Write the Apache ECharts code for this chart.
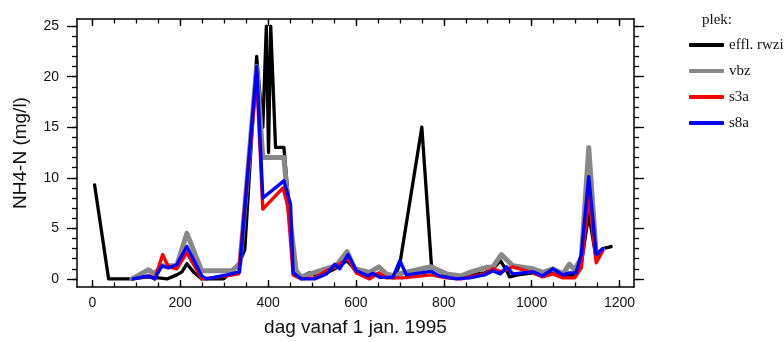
<!DOCTYPE html>
<html>
<head>
<meta charset="utf-8">
<script src="https://cdn.jsdelivr.net/npm/echarts@6/dist/echarts.min.js"></script>
<style>
  html, body { margin: 0; padding: 0; background: #fff; }
</style>
</head>
<body>
<div id="my-chart" style="width: 784px; height: 342px;"></div>
<script>
// effl. rwzi
const blackDays = [5, 37, 85, 130, 170, 192, 204, 215, 232, 249, 299, 321, 335, 347, 374, 388, 396, 401, 406, 417, 436, 461, 476, 493, 506, 529, 552, 580, 600, 631, 652, 669, 688, 700, 750, 772, 806, 840, 859, 893, 912, 929, 943, 950, 968, 1003, 1025, 1048, 1071, 1098, 1113, 1130, 1147, 1162, 1181];
const blackVals = [9.3, 0, 0, 0.2, 0, 0.4, 0.7, 1.5, 0.6, 0, 0, 0.9, 1.6, 2.9, 22, 15, 25, 12.5, 25, 13, 13, 0.5, 0.2, 0.6, 0.4, 0.5, 1.0, 1.8, 0.8, 0.4, 0.5, 0.2, 0.1, 1.5, 15, 1.3, 0.3, 0.2, 0.4, 0.6, 1.0, 1.8, 0.8, 0.2, 0.4, 0.6, 0.3, 0.6, 0.3, 0.4, 1.5, 6.4, 2.0, 3.0, 3.2];
// vbz
const grayDays = [90, 128, 142, 158, 192, 215, 249, 317, 336, 374, 388, 436, 445, 464, 476, 524, 555, 580, 597, 631, 652, 669, 688, 707, 771, 806, 840, 859, 893, 912, 931, 957, 1003, 1025, 1048, 1071, 1086, 1098, 1113, 1130, 1147, 1162];
const grayVals = [0, 0.9, 0.5, 1.3, 1.3, 4.5, 0.8, 0.8, 1.5, 21, 12, 12, 7.6, 0.8, 0.2, 0.9, 1.3, 2.7, 1.0, 0.65, 1.2, 0.5, 0.3, 0.6, 1.2, 0.5, 0.3, 0.65, 1.1, 1.2, 2.4, 1.3, 1.0, 0.65, 1.0, 0.5, 1.45, 0.9, 2.1, 13, 2.4, 2.9];
// s3a
const redDays = [93, 131, 142, 160, 173, 192, 215, 249, 306, 333, 374, 388, 434, 445, 457, 476, 506, 533, 552, 582, 601, 631, 652, 669, 700, 707, 771, 806, 840, 859, 893, 912, 931, 957, 1003, 1025, 1048, 1071, 1098, 1113, 1130, 1147, 1162];
const redVals = [0, 0.3, 0, 2.4, 1.2, 1.0, 2.6, 0, 0.3, 0.5, 20, 6.9, 9.0, 7.2, 0.4, 0, 0.1, 0.8, 1.2, 2.0, 0.6, 0, 0.6, 0.1, 0.1, 0.1, 0.4, 0.1, 0, 0.2, 0.5, 1.0, 0.7, 1.2, 0.6, 0.2, 0.5, 0.1, 0.1, 1.1, 8.2, 1.6, 2.8];
// s8a
const blueDays = [93, 127, 142, 158, 173, 192, 215, 249, 260, 306, 335, 374, 388, 436, 451, 457, 476, 506, 533, 552, 563, 582, 601, 627, 639, 654, 684, 700, 715, 771, 790, 828, 859, 893, 912, 929, 943, 957, 1003, 1025, 1048, 1071, 1086, 1101, 1113, 1130, 1147, 1162];
const blueVals = [0, 0.3, 0, 1.3, 1.1, 1.4, 3.2, 0.3, 0, 0.4, 0.7, 21, 8, 9.7, 7.4, 0.6, 0, 0, 0.5, 1.45, 1.0, 2.4, 0.8, 0.3, 0.55, 0.15, 0.15, 1.8, 0.4, 0.75, 0.3, 0, 0.1, 0.4, 0.8, 0.5, 1.2, 0.5, 0.7, 0.3, 1.0, 0.4, 0.6, 0.6, 2.4, 10.1, 2.4, 3.0];

const seriesNames = ["effl. rwzi", "vbz", "s3a", "s8a"];
const xMajorTicks = [0, 200, 400, 600, 800, 1000, 1200];
const yMajorTicks = [0, 5, 10, 15, 20, 25];

const xMinorTicks = [];
for (let d = 0; d <= 1200; d += 50) xMinorTicks.push(d);
const yMinorTicks = [];
for (let v = 0; v <= 25; v += 1) yMinorTicks.push(v);

const pairs = (days, vals) => days.map((d, i) => [d, vals[i]]);

const sansFont = "'Liberation Sans', Arial, sans-serif";
const serifFont = "'Liberation Serif', 'Times New Roman', serif";

const xBase = { type: "value", min: -35, max: 1233, splitLine: { show: false } };
const yBase = { type: "value", min: -0.8, max: 25.7, splitLine: { show: false } };

function xAxisDef(position, major, showLine, showLabel) {
  return Object.assign({}, xBase, {
    position: position,
    axisLine: { show: showLine, onZero: false, lineStyle: { color: "#000", width: 1.5 } },
    axisTick: {
      show: true, inside: true, length: major ? 7 : 4.5,
      customValues: major ? xMajorTicks : xMinorTicks,
      lineStyle: { color: "#000", width: 1.3 },
    },
    axisLabel: showLabel
      ? { show: true, customValues: xMajorTicks, margin: 9, color: "#111", fontSize: 14, fontFamily: sansFont, formatter: (v) => String(v) }
      : { show: false },
  });
}

function yAxisDef(position, major, showLine, showLabel) {
  return Object.assign({}, yBase, {
    position: position,
    axisLine: { show: showLine, onZero: false, lineStyle: { color: "#000", width: 1.5 } },
    axisTick: {
      show: true, inside: false, length: major ? 10 : 5,
      customValues: major ? yMajorTicks : yMinorTicks,
      lineStyle: { color: "#000", width: 1.3 },
    },
    axisLabel: showLabel
      ? { show: true, customValues: yMajorTicks, margin: 18, color: "#111", fontSize: 14, fontFamily: sansFont, formatter: (v) => String(v) }
      : { show: false },
  });
}

const xAxes = [
  xAxisDef("bottom", true, true, true),
  xAxisDef("bottom", false, false, false),
  xAxisDef("top", true, true, false),
  xAxisDef("top", false, false, false),
];
xAxes[0].name = "dag vanaf 1 jan. 1995";
xAxes[0].nameLocation = "middle";
xAxes[0].nameGap = 31;
xAxes[0].nameTextStyle = { fontSize: 19, color: "#111", fontFamily: sansFont };

const yAxes = [
  yAxisDef("left", true, true, true),
  yAxisDef("left", false, false, false),
  yAxisDef("right", true, true, false),
  yAxisDef("right", false, false, false),
];
yAxes[0].name = "NH4-N (mg/l)";
yAxes[0].nameLocation = "middle";
yAxes[0].nameGap = 47;
yAxes[0].nameTextStyle = { fontSize: 19, color: "#111", fontFamily: sansFont };

const lineSeries = (name, data, color, width) => ({
  name: name,
  type: "line",
  data: data,
  showSymbol: false,
  symbol: "none",
  color: color,
  lineStyle: { color: color, width: width, join: "round", cap: "round" },
  emphasis: { disabled: true },
});

const myChart = echarts.init(document.getElementById("my-chart"), null, { renderer: "canvas" });
const option = {
  animation: false,
  backgroundColor: "#fff",
  title: {
    text: "plek:",
    left: 697,
    top: 8,
    textStyle: { fontFamily: serifFont, fontSize: 15, fontWeight: "normal", color: "#111" },
  },
  legend: {
    orient: "vertical",
    left: 684,
    top: 32,
    itemWidth: 35,
    itemHeight: 4,
    itemGap: 10,
    icon: "roundRect",
    data: seriesNames,
    textStyle: { fontFamily: serifFont, fontSize: 15, color: "#111", lineHeight: 16 },
  },
  grid: { left: 77, right: 150, top: 19, bottom: 49, containLabel: false },
  xAxis: xAxes,
  yAxis: yAxes,
  series: [
    lineSeries(seriesNames[0], pairs(blackDays, blackVals), "#000000", 3.3),
    lineSeries(seriesNames[1], pairs(grayDays, grayVals), "#888888", 5),
    lineSeries(seriesNames[2], pairs(redDays, redVals), "#ff0000", 3.4),
    lineSeries(seriesNames[3], pairs(blueDays, blueVals), "#0000ff", 3.4),
  ],
};
myChart.setOption(option);
</script>
</body>
</html>
